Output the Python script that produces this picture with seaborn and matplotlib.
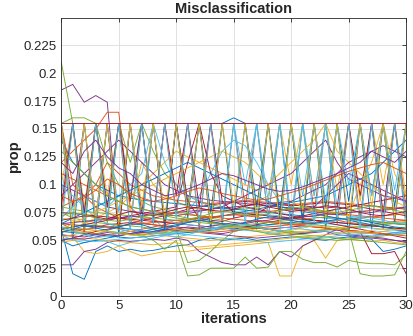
import matplotlib
matplotlib.use("Agg")
import matplotlib.pyplot as plt
import seaborn as sns
import pandas as pd

iterations = list(range(31))

run_01 = [0.155,0.05,0.155,0.06,0.155, 0.055,0.155,0.065,0.155,0.06, 0.155,0.07,0.155,0.06,0.155, 0.16,0.155,0.06,0.155,0.07, 0.155,0.065,0.155,0.06,0.155, 0.055,0.155,0.06,0.155,0.065, 0.155]
run_02 = [0.07,0.155,0.055,0.155,0.07, 0.155,0.06,0.155,0.065,0.155, 0.075,0.155,0.06,0.155,0.065, 0.155,0.08,0.155,0.07,0.155, 0.06,0.155,0.075,0.155,0.065, 0.155,0.07,0.155,0.06,0.155, 0.08]
run_03 = [0.1,0.155,0.08,0.155,0.09, 0.155,0.075,0.12,0.1,0.09, 0.085,0.08,0.078,0.076,0.075, 0.077,0.08,0.085,0.09,0.155, 0.1,0.155,0.09,0.155,0.095, 0.155,0.085,0.155,0.1,0.155, 0.09]
run_04 = [0.185,0.19,0.174,0.18,0.174, 0.06,0.058,0.057,0.056,0.058, 0.06,0.059,0.058,0.057,0.056, 0.058,0.06,0.061,0.06,0.058, 0.057,0.056,0.058,0.06,0.059, 0.058,0.057,0.056,0.055,0.057, 0.058]
run_05 = [0.21,0.155,0.06,0.155,0.065, 0.155,0.12,0.155,0.13,0.11, 0.1,0.09,0.085,0.082,0.08, 0.079,0.078,0.08,0.082,0.08, 0.079,0.078,0.077,0.076,0.078, 0.08,0.082,0.081,0.08,0.079, 0.078]
run_06 = [0.09,0.155,0.07,0.155,0.08, 0.155,0.09,0.155,0.07,0.06, 0.058,0.057,0.059,0.06,0.062, 0.155,0.1,0.155,0.085,0.155, 0.07,0.155,0.09,0.155,0.08, 0.07,0.065,0.155,0.07,0.155, 0.06]
run_07 = [0.155,0.08,0.155,0.07,0.155, 0.06,0.155,0.075,0.155,0.065, 0.155,0.085,0.07,0.068,0.067, 0.07,0.072,0.074,0.08,0.083, 0.082,0.081,0.08,0.079,0.08, 0.155,0.09,0.155,0.075,0.155, 0.07]
run_08 = [0.06,0.02,0.015,0.04,0.045, 0.04,0.042,0.04,0.041,0.043, 0.045,0.046,0.05,0.052,0.05, 0.051,0.052,0.05,0.051,0.052, 0.053,0.052,0.051,0.05,0.052, 0.053,0.052,0.051,0.04,0.042, 0.045]
run_09 = [0.12,0.13,0.14,0.15,0.165, 0.165,0.08,0.07,0.068,0.066, 0.065,0.067,0.068,0.066,0.065, 0.064,0.066,0.068,0.067,0.066, 0.065,0.064,0.066,0.067,0.068, 0.066,0.065,0.064,0.066,0.067, 0.068]
run_10 = [0.055,0.053,0.04,0.038,0.04, 0.045,0.04,0.036,0.038,0.04, 0.04,0.04,0.042,0.043,0.044, 0.045,0.046,0.047,0.048,0.018, 0.018,0.045,0.05,0.034,0.05, 0.051,0.05,0.049,0.05,0.048, 0.047]
run_11 = [0.028,0.028,0.04,0.042,0.048, 0.05,0.049,0.05,0.051,0.05, 0.052,0.05,0.04,0.035,0.03, 0.028,0.028,0.035,0.028,0.04, 0.035,0.045,0.05,0.055,0.06, 0.055,0.054,0.053,0.052,0.05, 0.048]
run_12 = [0.06,0.058,0.057,0.056,0.058, 0.057,0.055,0.054,0.05,0.042, 0.05,0.018,0.019,0.025,0.025, 0.025,0.035,0.025,0.026,0.04, 0.04,0.033,0.03,0.03,0.026, 0.032,0.03,0.029,0.029,0.028, 0.037]
run_13 = [0.055,0.05,0.048,0.05,0.049, 0.045,0.048,0.05,0.052,0.054, 0.06,0.075,0.09,0.11,0.13, 0.14,0.135,0.12,0.1,0.085, 0.08,0.078,0.075,0.074,0.073, 0.072,0.07,0.068,0.066,0.065, 0.064]
run_14 = [0.065,0.064,0.063,0.062,0.064, 0.065,0.066,0.065,0.064,0.063, 0.062,0.061,0.06,0.061,0.062, 0.063,0.062,0.061,0.06,0.061, 0.062,0.063,0.062,0.061,0.06, 0.059,0.058,0.038,0.038,0.04, 0.02]
run_15 = [0.14,0.12,0.11,0.1,0.095, 0.09,0.088,0.086,0.085,0.084, 0.083,0.082,0.081,0.08,0.079, 0.078,0.077,0.076,0.075,0.074, 0.073,0.072,0.071,0.07,0.07, 0.069,0.068,0.067,0.066,0.065, 0.064]
run_16 = [0.08,0.085,0.09,0.1,0.12, 0.11,0.1,0.095,0.09,0.088, 0.086,0.085,0.084,0.083,0.084, 0.085,0.086,0.085,0.084,0.083, 0.082,0.083,0.084,0.085,0.084, 0.083,0.082,0.081,0.08,0.079, 0.078]
run_17 = [0.06,0.062,0.065,0.07,0.075, 0.08,0.09,0.1,0.11,0.12, 0.13,0.125,0.12,0.115,0.11, 0.105,0.1,0.095,0.1,0.11, 0.12,0.13,0.14,0.155,0.13, 0.12,0.11,0.1,0.09,0.085, 0.08]
run_18 = [0.1,0.095,0.09,0.085,0.08, 0.078,0.076,0.075,0.074,0.073, 0.072,0.074,0.076,0.078,0.08, 0.085,0.09,0.095,0.1,0.105, 0.11,0.12,0.13,0.14,0.12, 0.105,0.1,0.095,0.09,0.088, 0.085]
run_19 = [0.075,0.07,0.068,0.066,0.065, 0.064,0.063,0.062,0.06,0.058, 0.06,0.03,0.032,0.04,0.05, 0.058,0.06,0.062,0.064,0.065, 0.066,0.065,0.064,0.063,0.062, 0.06,0.02,0.018,0.018,0.019, 0.04]
run_20 = [0.07,0.08,0.09,0.085,0.08, 0.09,0.1,0.11,0.155,0.12, 0.1,0.09,0.085,0.08,0.078, 0.076,0.075,0.074,0.073,0.072, 0.07,0.068,0.066,0.065,0.064, 0.063,0.062,0.061,0.06,0.059, 0.058]
run_21 = [0.05,0.052,0.055,0.058,0.06, 0.062,0.065,0.068,0.07,0.072, 0.075,0.078,0.08,0.082,0.083, 0.084,0.085,0.084,0.083,0.082, 0.081,0.082,0.083,0.084,0.083, 0.082,0.08,0.078,0.076,0.074, 0.072]
run_22 = [0.058,0.057,0.056,0.055,0.054, 0.053,0.052,0.053,0.054,0.055, 0.056,0.057,0.058,0.059,0.06, 0.061,0.062,0.063,0.064,0.065, 0.066,0.067,0.068,0.067,0.066, 0.065,0.064,0.063,0.062,0.061, 0.06]
run_23 = [0.065,0.06,0.058,0.056,0.055, 0.056,0.058,0.06,0.062,0.064, 0.066,0.068,0.07,0.071,0.072, 0.073,0.072,0.071,0.07,0.069, 0.07,0.071,0.072,0.073,0.074, 0.075,0.076,0.077,0.078,0.079, 0.08]
run_24 = [0.07,0.068,0.066,0.064,0.062, 0.06,0.058,0.056,0.055,0.054, 0.053,0.052,0.051,0.05,0.051, 0.052,0.053,0.054,0.055,0.056, 0.057,0.058,0.059,0.06,0.061, 0.062,0.063,0.064,0.065,0.066, 0.067]
run_25 = [0.055,0.054,0.053,0.055,0.057, 0.056,0.055,0.057,0.058,0.06, 0.059,0.058,0.057,0.056,0.055, 0.054,0.053,0.052,0.053,0.054, 0.055,0.056,0.057,0.058,0.055, 0.054,0.053,0.052,0.051,0.05, 0.049]
run_26 = [0.08,0.078,0.076,0.075,0.074, 0.073,0.072,0.071,0.07,0.069, 0.068,0.067,0.066,0.065,0.064, 0.063,0.062,0.061,0.06,0.059, 0.058,0.057,0.058,0.059,0.06, 0.061,0.062,0.063,0.064,0.065, 0.066]
run_27 = [0.1,0.09,0.08,0.07,0.065, 0.062,0.06,0.058,0.057,0.056, 0.057,0.058,0.059,0.06,0.061, 0.062,0.063,0.064,0.063,0.062, 0.061,0.06,0.059,0.058,0.057, 0.056,0.055,0.054,0.055,0.056, 0.057]
run_28 = [0.06,0.062,0.064,0.066,0.068, 0.07,0.072,0.074,0.076,0.078, 0.08,0.12,0.155,0.11,0.09, 0.085,0.08,0.078,0.076,0.074, 0.072,0.07,0.068,0.066,0.064, 0.062,0.06,0.058,0.056,0.054, 0.052]
run_29 = [0.05,0.045,0.048,0.05,0.052, 0.054,0.056,0.058,0.06,0.062, 0.064,0.066,0.068,0.07,0.072, 0.074,0.076,0.078,0.08,0.082, 0.084,0.086,0.088,0.09,0.095, 0.1,0.105,0.11,0.12,0.13, 0.14]
run_30 = [0.155,0.1,0.09,0.08,0.075, 0.07,0.068,0.066,0.064,0.062, 0.06,0.059,0.058,0.057,0.058, 0.059,0.06,0.061,0.062,0.063, 0.064,0.065,0.066,0.067,0.068, 0.069,0.07,0.071,0.072,0.073, 0.074]
run_31 = [0.06,0.065,0.07,0.075,0.08, 0.085,0.09,0.095,0.1,0.105, 0.11,0.115,0.12,0.125,0.13, 0.125,0.12,0.11,0.1,0.09, 0.085,0.08,0.078,0.076,0.074, 0.072,0.1,0.12,0.155,0.11, 0.09]
run_32 = [0.065,0.066,0.067,0.068,0.069, 0.07,0.071,0.072,0.073,0.074, 0.075,0.076,0.077,0.078,0.079, 0.08,0.081,0.082,0.083,0.084, 0.085,0.09,0.095,0.1,0.11, 0.12,0.125,0.13,0.135,0.13, 0.125]
run_33 = [0.155,0.16,0.16,0.155,0.12, 0.1,0.09,0.085,0.08,0.078, 0.076,0.074,0.072,0.07,0.068, 0.066,0.064,0.062,0.06,0.058, 0.056,0.055,0.054,0.053,0.052, 0.051,0.05,0.049,0.048,0.047, 0.046]
run_34 = [0.052,0.051,0.05,0.049,0.05, 0.051,0.052,0.053,0.054,0.055, 0.056,0.055,0.054,0.053,0.052, 0.051,0.05,0.049,0.048,0.049, 0.05,0.051,0.052,0.053,0.054, 0.055,0.056,0.057,0.058,0.057, 0.056]
run_35 = [0.075,0.074,0.073,0.072,0.071, 0.07,0.069,0.068,0.067,0.066, 0.065,0.064,0.063,0.062,0.061, 0.06,0.062,0.064,0.066,0.068, 0.07,0.072,0.074,0.076,0.078, 0.08,0.082,0.084,0.086,0.088, 0.09]
run_36 = [0.06,0.062,0.064,0.063,0.062, 0.061,0.06,0.059,0.058,0.06, 0.155,0.08,0.155,0.075,0.155, 0.07,0.155,0.08,0.155,0.075, 0.155,0.07,0.155,0.08,0.155, 0.085,0.155,0.09,0.155,0.08, 0.155]
run_37 = [0.11,0.105,0.1,0.095,0.09, 0.085,0.08,0.078,0.076,0.075, 0.074,0.073,0.072,0.071,0.07, 0.069,0.068,0.067,0.066,0.065, 0.064,0.063,0.062,0.061,0.06, 0.059,0.058,0.057,0.056,0.055, 0.054]
run_38 = [0.048,0.05,0.052,0.051,0.05, 0.049,0.048,0.047,0.046,0.047, 0.048,0.045,0.044,0.045,0.046, 0.047,0.048,0.049,0.05,0.051, 0.052,0.053,0.054,0.055,0.056, 0.057,0.058,0.059,0.06,0.061, 0.062]
run_39 = [0.09,0.1,0.11,0.12,0.13, 0.14,0.13,0.12,0.11,0.1, 0.095,0.09,0.088,0.086,0.085, 0.084,0.083,0.082,0.081,0.08, 0.079,0.078,0.08,0.09,0.1, 0.11,0.105,0.1,0.095,0.09, 0.085]
run_40 = [0.062,0.061,0.06,0.059,0.058, 0.057,0.056,0.055,0.056,0.057, 0.058,0.059,0.06,0.061,0.062, 0.063,0.064,0.065,0.066,0.067, 0.068,0.069,0.07,0.071,0.07, 0.069,0.068,0.067,0.066,0.065, 0.064]
run_41 = [0.155,0.07,0.155,0.065,0.155, 0.075,0.155,0.06,0.155,0.07, 0.065,0.064,0.063,0.062,0.061, 0.06,0.059,0.058,0.057,0.056, 0.155,0.09,0.155,0.085,0.155, 0.1,0.155,0.09,0.155,0.095, 0.155]
run_42 = [0.08,0.155,0.075,0.155,0.08, 0.155,0.085,0.155,0.07,0.155, 0.09,0.155,0.08,0.155,0.085, 0.075,0.074,0.073,0.072,0.071, 0.07,0.069,0.068,0.067,0.066, 0.065,0.064,0.063,0.062,0.061, 0.06]
run_43 = [0.065,0.07,0.075,0.08,0.085, 0.09,0.095,0.1,0.105,0.11, 0.115,0.12,0.115,0.11,0.105, 0.1,0.095,0.09,0.085,0.08, 0.078,0.076,0.074,0.072,0.07, 0.068,0.066,0.064,0.062,0.06, 0.058]
run_44 = [0.058,0.059,0.06,0.061,0.062, 0.063,0.064,0.065,0.066,0.067, 0.068,0.069,0.07,0.071,0.072, 0.073,0.074,0.075,0.076,0.077, 0.078,0.077,0.076,0.075,0.074, 0.073,0.072,0.071,0.07,0.069, 0.068]
run_45 = [0.155,0.06,0.155,0.07,0.155, 0.065,0.155,0.08,0.155,0.07, 0.155,0.075,0.155,0.065,0.155, 0.08,0.155,0.07,0.155,0.065, 0.155,0.075,0.155,0.07,0.155, 0.065,0.155,0.08,0.155,0.07, 0.155]
run_46 = [0.05,0.052,0.051,0.053,0.055, 0.054,0.056,0.058,0.057,0.059, 0.06,0.062,0.061,0.063,0.064, 0.066,0.065,0.067,0.068,0.07, 0.069,0.071,0.072,0.074,0.073, 0.075,0.076,0.075,0.077,0.078, 0.08]
run_47 = [0.13,0.12,0.11,0.1,0.09, 0.085,0.08,0.078,0.076,0.074, 0.072,0.07,0.068,0.066,0.064, 0.062,0.06,0.058,0.056,0.055, 0.054,0.053,0.052,0.051,0.05, 0.051,0.052,0.053,0.054,0.055, 0.056]
run_48 = [0.06,0.155,0.065,0.155,0.07, 0.155,0.06,0.155,0.065,0.155, 0.07,0.155,0.065,0.155,0.07, 0.155,0.065,0.155,0.07,0.155, 0.06,0.155,0.065,0.155,0.07, 0.155,0.06,0.155,0.065,0.155, 0.07]
run_49 = [0.068,0.07,0.072,0.071,0.069, 0.073,0.076,0.074,0.072,0.075, 0.078,0.08,0.079,0.077,0.076, 0.078,0.081,0.083,0.08,0.078, 0.076,0.077,0.079,0.081,0.08, 0.078,0.075,0.073,0.072,0.074, 0.076]
run_50 = [0.057,0.06,0.063,0.061,0.059, 0.062,0.065,0.064,0.061,0.06, 0.063,0.066,0.068,0.067,0.065, 0.064,0.066,0.069,0.071,0.07, 0.068,0.066,0.065,0.067,0.069, 0.07,0.068,0.066,0.064,0.062, 0.061]
run_51 = [0.09,0.085,0.088,0.095,0.105, 0.1,0.092,0.088,0.085,0.087, 0.09,0.094,0.097,0.095,0.092, 0.09,0.088,0.086,0.087,0.09, 0.093,0.096,0.1,0.104,0.108, 0.112,0.115,0.118,0.12,0.115, 0.11]
run_52 = [0.053,0.055,0.057,0.059,0.058, 0.056,0.055,0.054,0.056,0.058, 0.06,0.058,0.057,0.058,0.06, 0.062,0.061,0.059,0.058,0.057, 0.059,0.061,0.063,0.062,0.06, 0.058,0.057,0.056,0.058,0.06, 0.059]
run_53 = [0.12,0.11,0.13,0.14,0.125, 0.115,0.11,0.1,0.095,0.09, 0.092,0.096,0.1,0.105,0.11, 0.108,0.104,0.1,0.096,0.094, 0.095,0.098,0.102,0.106,0.11, 0.115,0.12,0.13,0.125,0.12, 0.13]
run_54 = [0.072,0.075,0.073,0.07,0.068, 0.067,0.069,0.071,0.073,0.072, 0.07,0.069,0.071,0.074,0.076, 0.075,0.073,0.072,0.074,0.077, 0.079,0.08,0.078,0.076,0.075, 0.077,0.079,0.081,0.079,0.077, 0.075]
run_55 = [0.062,0.058,0.055,0.052,0.054, 0.057,0.06,0.059,0.057,0.055, 0.053,0.055,0.058,0.06,0.063, 0.065,0.064,0.062,0.06,0.058, 0.06,0.062,0.064,0.066,0.068, 0.07,0.072,0.07,0.068,0.066, 0.065]
run_56 = [0.155,0.155,0.155,0.155,0.155, 0.155,0.155,0.155,0.155,0.155, 0.155,0.155,0.155,0.155,0.155, 0.155,0.155,0.155,0.155,0.155, 0.155,0.155,0.155,0.155,0.155, 0.155,0.155,0.155,0.155,0.155, 0.155]

runs = [run_01, run_02, run_03, run_04, run_05, run_06, run_07, run_08, run_09, run_10,
        run_11, run_12, run_13, run_14, run_15, run_16, run_17, run_18, run_19, run_20,
        run_21, run_22, run_23, run_24, run_25, run_26, run_27, run_28, run_29, run_30,
        run_31, run_32, run_33, run_34, run_35, run_36, run_37, run_38, run_39, run_40,
        run_41, run_42, run_43, run_44, run_45, run_46, run_47, run_48, run_49, run_50,
        run_51, run_52, run_53, run_54, run_55, run_56]

x_ticks = [0, 5, 10, 15, 20, 25, 30]
y_ticks = [0, 0.025, 0.05, 0.075, 0.1, 0.125, 0.15, 0.175, 0.2, 0.225]
y_tick_labels = ["0", "0.025", "0.05", "0.075", "0.1", "0.125", "0.15", "0.175", "0.2", "0.225"]

matlab_colors = ["#0072BD", "#D95319", "#EDB120", "#7E2F8E", "#77AC30", "#4DBEEE", "#A2142F"]

rows = []
for i, r in enumerate(runs):
    for it, v in zip(iterations, r):
        rows.append({"iteration": it, "prop": v, "run": i})
df = pd.DataFrame(rows)
palette = {i: matlab_colors[i % 7] for i in range(len(runs))}

sns.set_style("white")
plt.rcParams["font.family"] = ["Liberation Sans", "DejaVu Sans"]

fig = plt.figure(figsize=(4.14, 3.36), dpi=100)
ax = fig.add_axes([0.148, 0.119, 0.833, 0.827])
sns.lineplot(data=df, x="iteration", y="prop", hue="run", palette=palette,
             legend=False, linewidth=0.65, ax=ax, estimator=None, sort=False)

ax.set_xlim(0, 30)
ax.set_ylim(0, 0.2495)
ax.set_xticks(x_ticks)
ax.set_yticks(y_ticks)
ax.set_yticklabels(y_tick_labels)
ax.grid(True, color="#dcdcdc", linewidth=0.6)
ax.set_axisbelow(True)
for s in ax.spines.values():
    s.set_color("#262626")
    s.set_linewidth(0.6)
    s.set_visible(True)
ax.tick_params(direction="in", length=3, width=0.6, colors="#262626",
               labelsize=9.5, top=True, right=True, pad=3)
ax.set_title("Misclassification", fontsize=10.5, fontweight="bold", pad=4)
ax.set_xlabel("iterations", fontsize=10.5, fontweight="bold", labelpad=0)
ax.set_ylabel("prop", fontsize=10.5, fontweight="bold", labelpad=2)

fig.savefig("out.png", dpi=100)
